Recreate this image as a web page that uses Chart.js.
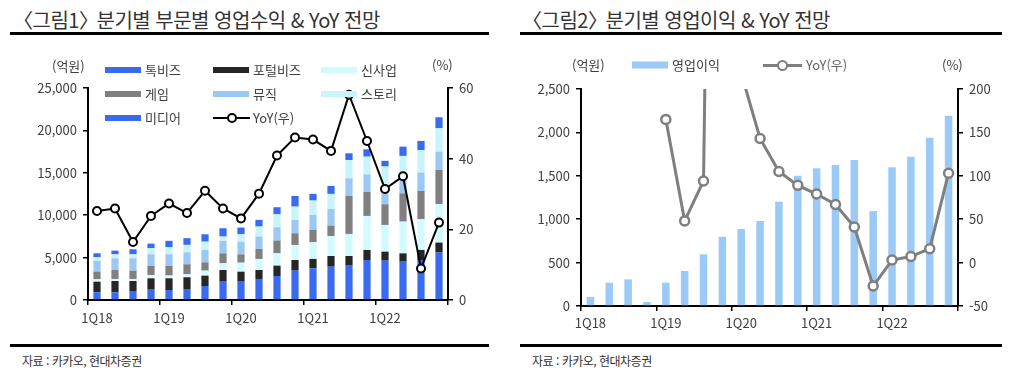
<!DOCTYPE html>
<html lang="ko">
<head>
<meta charset="UTF-8">
<title>카카오 분기별 실적</title>
<script src="https://cdn.jsdelivr.net/npm/chart.js"></script>
<style>
  body {
    margin: 0;
    width: 1013px;
    height: 379px;
    position: relative;
    overflow: hidden;
    background: #fff;
    font-family: "Noto Sans CJK KR", "Noto Sans", sans-serif;
    color: #333;
  }
  .title {
    position: absolute;
    top: 5px;
    font-size: 20px;
    letter-spacing: -0.5px;
    color: #333;
    white-space: nowrap;
  }
  .title .op { margin-left: -9px; }
  .title .cl { margin-right: -7px; }
  .rule {
    position: absolute;
    height: 3px;
    background: #000;
  }
  .src {
    position: absolute;
    top: 352px;
    font-size: 12px;
    letter-spacing: -0.5px;
    color: #333;
  }
  .lbl {
    position: absolute;
    font-size: 13px;
    color: #404040;
    white-space: nowrap;
    line-height: 16px;
    transform: translateY(-50%);
  }
  .sw {
    position: absolute;
    width: 36px;
    height: 6px;
    transform: translateY(-50%);
  }
  canvas { position: absolute; top: 0; }
</style>
</head>
<body>
  <div class="title" style="left:22px"><span class="op">〈</span>그림1<span class="cl">〉</span> 분기별 부문별 영업수익 &amp; YoY 전망</div>
  <div class="title" style="left:531px"><span class="op">〈</span>그림2<span class="cl">〉</span> 분기별 영업이익 &amp; YoY 전망</div>
  <div class="rule" style="left:10px; width:479px; top:32px"></div>
  <div class="rule" style="left:520px; width:482px; top:32px"></div>
  <div class="rule" style="left:10px; width:479px; top:344px"></div>
  <div class="rule" style="left:520px; width:482px; top:344px"></div>
  <div class="src" style="left:22px">자료 : 카카오, 현대차증권</div>
  <div class="src" style="left:532px">자료 : 카카오, 현대차증권</div>

  <canvas id="c1" width="505" height="379" style="left:0"></canvas>
  <canvas id="c2" width="508" height="379" style="left:505px"></canvas>
  <div id="legend"></div>

<script>
// 분기
const quarters = ['1Q18','2Q18','3Q18','4Q18','1Q19','2Q19','3Q19','4Q19','1Q20','2Q20',
                  '3Q20','4Q20','1Q21','2Q21','3Q21','4Q21','1Q22','2Q22','3Q22','4Q22'];

// 그림1: 부문별 영업수익 (억원)
const talkBiz   = [900, 900, 1060, 1300, 1180, 1300, 1650, 2240, 2240, 2480, 2830, 3460, 3740, 3930, 4050, 4720, 4640, 4520, 4720, 5590];
const portalBiz = [1260, 1340, 1180, 1260, 1380, 1380, 1220, 1300, 1100, 1060, 1220, 1260, 1100, 1260, 1140, 1180, 1060, 980, 1180, 1180];
const newBiz    = [280, 240, 240, 390, 320, 350, 590, 790, 1060, 1300, 1460, 1770, 1970, 2360, 2600, 4010, 3150, 3740, 3620, 4520];
const game      = [910, 1060, 980, 1060, 1140, 1180, 980, 1180, 980, 1180, 1500, 1380, 1460, 1220, 4480, 2830, 2440, 3340, 3340, 4050];
const music     = [1260, 1380, 1460, 1380, 1380, 1420, 1460, 1460, 1500, 1460, 1570, 1570, 1770, 1970, 2080, 2080, 1500, 1970, 2160, 2160];
const story     = [430, 470, 470, 710, 830, 870, 980, 510, 870, 1180, 1530, 1570, 1690, 1770, 2160, 2080, 2950, 2440, 2670, 2750];
const media     = [470, 430, 590, 550, 750, 790, 870, 980, 790, 790, 830, 1260, 790, 940, 790, 870, 670, 1100, 1060, 1300];
// 그림1: YoY (%)
const revYoY    = [25.2, 25.9, 16.4, 23.8, 27.3, 24.6, 30.9, 25.9, 23.1, 30.1, 40.9, 46.0, 45.4, 42.2, 58.1, 45.0, 31.4, 35.0, 8.9, 21.9];

// 그림2: 영업이익 (억원), YoY (%)
const opProfit  = [105, 268, 307, 46, 268, 403, 595, 798, 887, 979, 1202, 1501, 1586, 1624, 1682, 1094, 1598, 1720, 1939, 2193];
const opYoY     = [null, null, null, null, 165, 48, 94, 1650, 218, 143, 105, 89, 79, 67, 41, -27, 3, 7, 16, 103];

const segNames  = ['톡비즈', '포털비즈', '신사업', '게임', '뮤직', '스토리', '미디어'];
const segData   = [talkBiz, portalBiz, newBiz, game, music, story, media];
const segColors = ['#386bf2', '#262626', '#d2fbff', '#808080', '#9cc8f6', '#c8f4fc', '#386bf2'];

const tickFont = { family: '"Noto Sans CJK KR", "Noto Sans", sans-serif', size: 13 };
const tickColor = '#404040';

// 1Q 마다 눈금, 마지막 경계도 표시
function yearTick(ctx) {
  return (ctx.index === undefined || ctx.index % 4 === 0) ? '#000' : 'rgba(0,0,0,0)';
}

function xScale(height, pad) {
  return {
    stacked: true,
    offset: true,
    grid: { offset: true, drawOnChartArea: false, tickLength: 5, lineWidth: 1.5, color: yearTick, tickColor: yearTick },
    border: { display: true, color: '#000', width: 2 },
    ticks: {
      autoSkip: false, maxRotation: 0, padding: pad, color: tickColor, font: tickFont,
      callback: (v, i) => i % 4 === 0 ? quarters[i] : ''
    },
    afterFit: s => { s.height = height; }
  };
}

function yScale(pos, min, max, step, width, extra) {
  return Object.assign({
    position: pos,
    min: min, max: max,
    grid: { drawOnChartArea: false, tickLength: 5, lineWidth: 1.5, color: '#000' },
    border: { display: true, color: '#000', width: 2 },
    ticks: { stepSize: step, padding: 6, color: tickColor, font: tickFont,
             callback: v => v.toLocaleString('en-US') },
    afterFit: s => { s.width = width; }
  }, extra || {});
}

const base = {
  responsive: false,
  animation: false,
  plugins: { legend: { display: false }, tooltip: { enabled: false } }
};

// 그림1
const ds1 = segNames.map((name, i) => ({
  type: 'bar',
  label: name,
  data: segData[i],
  backgroundColor: segColors[i],
  yAxisID: 'y',
  order: 1,
  barPercentage: 0.4,
  categoryPercentage: 1
}));
ds1.push({
  type: 'line',
  label: 'YoY(우)',
  data: revYoY,
  yAxisID: 'y1',
  order: 0,
  borderColor: '#000',
  borderWidth: 2,
  pointRadius: 4,
  pointBorderWidth: 2,
  pointBackgroundColor: '#fff',
  pointBorderColor: '#000',
  tension: 0
});

new Chart(document.getElementById('c1'), {
  data: { labels: quarters, datasets: ds1 },
  options: Object.assign({}, base, {
    layout: { padding: { top: 88, left: 0, right: 0, bottom: 0 } },
    scales: {
      x: xScale(79, 5),
      y: yScale('left', 0, 25000, 5000, 88, { stacked: true }),
      y1: yScale('right', 0, 60, 20, 57)
    }
  })
});

// 그림2
new Chart(document.getElementById('c2'), {
  data: {
    labels: quarters,
    datasets: [
      { type: 'bar', label: '영업이익', data: opProfit, backgroundColor: '#9ccaf7', yAxisID: 'y',
        order: 1, barPercentage: 0.4, categoryPercentage: 1 },
      { type: 'line', label: 'YoY(우)', data: opYoY, yAxisID: 'y1', order: 0,
        borderColor: '#7f7f7f', borderWidth: 3, pointRadius: 4.5, pointBorderWidth: 2.5,
        pointBackgroundColor: '#fff', pointBorderColor: '#7f7f7f', tension: 0 }
    ]
  },
  options: Object.assign({}, base, {
    layout: { padding: { top: 89, left: 0, right: 0, bottom: 0 } },
    scales: {
      x: xScale(73, 4),
      y: yScale('left', 0, 2500, 500, 76),
      y1: yScale('right', -50, 200, 50, 55)
    }
  })
});

// 범례 (HTML)
const legend = document.getElementById('legend');
function addText(text, x, y, color) {
  const d = document.createElement('div');
  d.className = 'lbl';
  d.textContent = text;
  d.style.left = x + 'px';
  d.style.top = y + 'px';
  if (color) d.style.color = color;
  legend.appendChild(d);
}
function addSwatch(color, x, y, h) {
  const d = document.createElement('div');
  d.className = 'sw';
  d.style.background = color;
  d.style.left = x + 'px';
  d.style.top = y + 'px';
  if (h) d.style.height = h + 'px';
  legend.appendChild(d);
}
function addLineMarker(color, x, y, w, lw, r) {
  const l = document.createElement('div');
  l.style.cssText = `position:absolute;left:${x}px;top:${y - lw / 2}px;width:${w}px;height:${lw}px;background:${color}`;
  legend.appendChild(l);
  const c = document.createElement('div');
  c.style.cssText = `position:absolute;left:${x + w / 2 - r}px;top:${y - r}px;width:${2 * r - 4}px;height:${2 * r - 4}px;` +
                    `border:2px solid ${color};border-radius:50%;background:#fff`;
  legend.appendChild(c);
}

const colX = [105, 213, 321];
const rowY = [70, 94, 118];
segNames.forEach((name, i) => {
  const x = colX[i % 3], y = rowY[Math.floor(i / 3)];
  addSwatch(segColors[i], x, y);
  addText(name, x + 40, y);
});
addLineMarker('#000', colX[1], rowY[2], 37, 2, 5);
addText('YoY(우)', colX[1] + 40, rowY[2]);
addText('(억원)', 52, 66);
addText('(%)', 432, 65);

addSwatch('#9ccaf7', 632, 65, 7);
addText('영업이익', 672, 65);
addLineMarker('#7f7f7f', 763, 65, 39, 3, 5.5);
addText('YoY(우)', 806, 65, '#666');
addText('(억원)', 572, 65);
addText('(%)', 942, 65);
</script>
</body>
</html>
